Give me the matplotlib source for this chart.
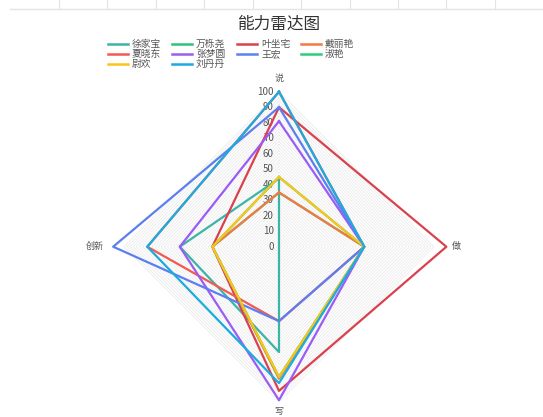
import numpy as np
import matplotlib
matplotlib.use('Agg')
import matplotlib.pyplot as plt

plt.rcParams['font.family'] = ['Noto Sans CJK SC', 'DejaVu Sans']

# ---------------- data ----------------
axes_names = ['说', '做', '写', '创新']
axes_theta = [np.pi / 2, 0, 3 * np.pi / 2, np.pi]

names = ['徐家宝', '万栎尧', '叶坐宅', '戴丽艳', '夏晓东',
         '张梦圆', '王宏', '淑艳', '尉欢', '刘丹丹']
# values in order: 说, 做, 写, 创新
xu_jiabao = [44, 0, 68, 64]
wan_liyao = [35, 55, 85, 43]
ye_zuozhai = [90, 108, 93, 43]
dai_liyan = [35, 55, 85, 43]
xia_xiaodong = [100, 55, 48, 85]
zhang_mengyuan = [81, 55, 99, 64]
wang_hong = [90, 55, 48, 107]
shu_yan = [45, 55, 84, 43]
wei_huan = [45, 55, 84, 43]
liu_dandan = [100, 55, 88, 85]
series = [xu_jiabao, wan_liyao, ye_zuozhai, dai_liyan, xia_xiaodong,
          zhang_mengyuan, wang_hong, shu_yan, wei_huan, liu_dandan]
colors = ['#3cb4a6', '#2fc27a', '#d9414f', '#f47a42', '#f05a50',
          '#9b5cf6', '#5b7ff0', '#2ecc78', '#fcc419', '#1aabe0']
tick_values = list(range(0, 101, 10))
grid_levels = list(range(2, 101, 2))

# ---------------- figure ----------------
fig = plt.figure(figsize=(5.43, 4.17), dpi=100)

# faint sheet grid at the very top
for x in [59, 107, 156, 204, 253, 301, 350, 398, 446, 495]:
    fig.add_artist(plt.Line2D([x / 543, x / 543], [1, 1 - 8 / 417],
                              color='#e4e4e4', lw=0.8))
fig.add_artist(plt.Line2D([10 / 543, 1], [1 - 9 / 417, 1 - 9 / 417],
                          color='#e4e4e4', lw=1))

fig.text(279 / 543, 1 - 24 / 417, '能力雷达图', ha='center', va='center',
         fontsize=12, color='#333333')

ax = fig.add_axes([0.1998, -0.0005, 0.628, 0.8177], projection='polar')
ax.set_ylim(0, 110)
ax.set_axis_off()

theta_closed = axes_theta + [axes_theta[0]]

for lv in grid_levels:
    ax.plot(theta_closed, [lv] * 5, color='#ebebeb', lw=0.6, zorder=1)

for name, vals, c in zip(names, series, colors):
    ax.plot(theta_closed, vals + [vals[0]], color=c, lw=1.6, label=name, zorder=3)

for v in tick_values:
    ax.annotate(str(v), (np.pi / 2, v), xytext=(-5, 0), textcoords='offset pixels',
                ha='right', va='center', fontsize=7, color='#555555', zorder=2)

name_offsets = [(0, 13), (22, 0), (0, -10), (-29, 0)]
for nm, th, off in zip(axes_names, axes_theta, name_offsets):
    ax.annotate(nm, (th, 100), xytext=off, textcoords='offset pixels',
                ha='center', va='center', fontsize=6.5, color='#555555')

# legend, laid out like the original (4 columns)
col_x = [108, 172, 237, 301]
row_y = [44, 54, 64]
for i, (name, c) in enumerate(zip(names, colors)):
    x0 = col_x[i % 4]
    y0 = row_y[i // 4]
    fig.add_artist(plt.Line2D([x0 / 543, (x0 + 20) / 543],
                              [1 - y0 / 417, 1 - y0 / 417], color=c, lw=1.8))
    fig.text((x0 + 24) / 543, 1 - y0 / 417, name, ha='left', va='center',
             fontsize=7, color='#555555')

fig.savefig('out.png', dpi=100)
